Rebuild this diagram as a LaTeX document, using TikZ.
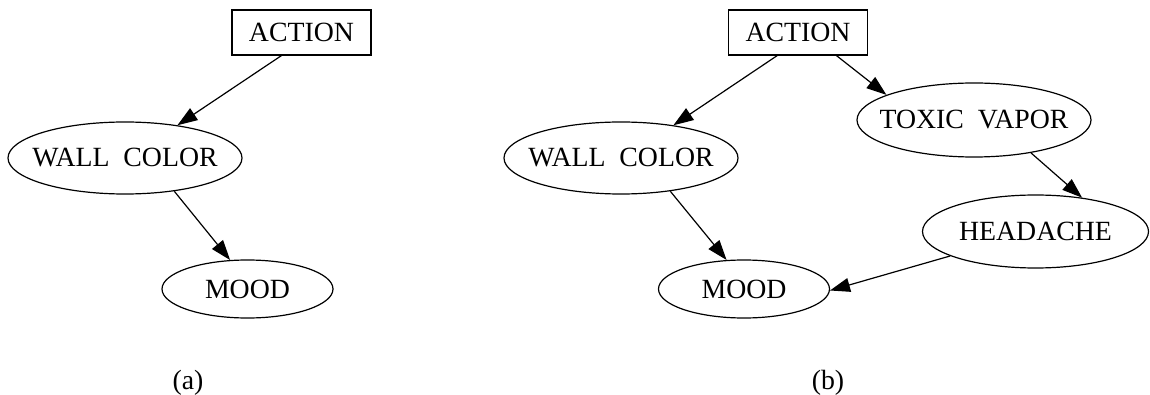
\documentclass[tikz,border=0pt]{standalone}
\usepackage{fontspec}
\setmainfont{Liberation Serif}
\usetikzlibrary{shapes.geometric,arrows.meta}
\newcommand{\vlabel}[1]{\makebox[0pt]{#1}}
\begin{document}
\begin{tikzpicture}[x=0.5pt,y=-0.5pt,
    every node/.style={font=\fontsize{13.9}{16}\selectfont},
    actbox/.style={draw,line width=0.6pt,inner sep=0pt,minimum width=69.5pt,minimum height=22.5pt},
    varnode/.style={draw,ellipse,line width=0.6pt,inner sep=0pt,minimum height=36pt},
    edge/.style={line width=0.6pt,-{Triangle[length=10pt,width=7pt]}}]
  \useasboundingbox (0,0) rectangle (1150,395);

  %(a)
  \node[actbox] (actA) at (301.5,32.5) {ACTION};
  \node[varnode,minimum width=117pt] (wallA) at (125,158) {\vlabel{WALL\ \ COLOR}};
  \node[varnode,minimum width=85.5pt,minimum height=29pt] (moodA) at (247.5,289) {\vlabel{MOOD}};
  \node (labA) at (188,383) {(a)};

  \draw[edge] (actA.229) -- (wallA.32);
  \draw[edge] (wallA.-34) -- (moodA.121);

  %(b)
  \node[actbox] (actB) at (798,32.5) {ACTION};
  \node[varnode,minimum width=117pt] (wallB) at (621,158) {\vlabel{WALL\ \ COLOR}};
  \node[varnode,minimum width=85.5pt,minimum height=29pt] (moodB) at (744,289) {\vlabel{MOOD}};
  \node[varnode,minimum width=117pt,minimum height=37pt] (toxB) at (974,120) {\vlabel{TOXIC\ \ VAPOR}};
  \node[varnode,minimum width=113pt,minimum height=36.5pt] (headB) at (1035.5,231.5) {\vlabel{HEADACHE}};
  \node (labB) at (828,383) {(b)};

  \draw[edge] (actB.228) -- (wallB.32);
  \draw[edge] (actB.-31) -- (toxB.164);
  \draw[edge] (wallB.-34) -- (moodB.121);
  \draw[edge] (toxB.-30) -- (headB.36);
  \draw[edge] (headB.196) -- (moodB.-1);
\end{tikzpicture}
\end{document}
